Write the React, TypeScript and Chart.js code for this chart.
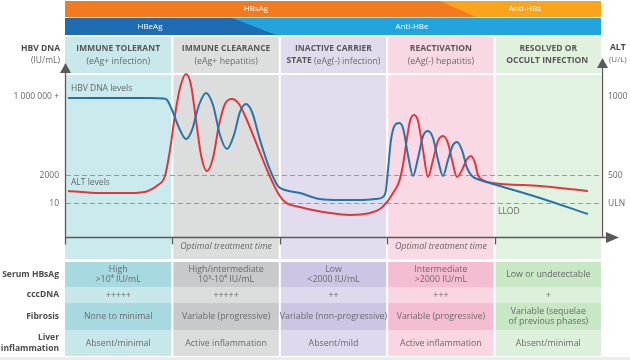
import React, { useEffect, useRef } from "react";
import { Chart, registerables } from "chart.js";

Chart.register(...registerables);

// ---------- data ----------
const phaseBounds = [0, 20, 40, 60, 80, 100];
const phaseTitles = ["IMMUNE TOLERANT", "IMMUNE CLEARANCE", "INACTIVE CARRIER", "REACTIVATION", "RESOLVED OR"];
const phaseSubtitles = ["(eAg+ infection)", "(eAg+ hepatitis)", "STATE|(eAg(-) infection)", "(eAg(-) hepatitis)", "OCCULT INFECTION|"];
const treatmentLabels = ["", "Optimal treatment time", "", "Optimal treatment time", ""];

const hbvX = [0.56, 15.83, 18.25, 19.0, 19.93, 21.42, 22.53, 23.65, 24.95, 26.26, 27.56, 28.86, 30.17, 31.47, 32.59, 33.71, 34.82, 36.31, 38.18, 39.66, 40.97, 43.76, 47.49, 51.21, 54.93, 57.73, 59.22, 59.78, 60.15, 60.71, 61.45, 62.2, 62.94, 63.87, 64.8, 65.74, 66.67, 67.6, 68.53, 69.46, 70.39, 71.32, 72.25, 73.0, 73.93, 74.86, 75.79, 77.28, 79.7, 88.45, 97.39];
const hbvY = [99.3, 99.3, 98.9, 97.9, 90.7, 76.4, 70.0, 76.4, 94.3, 102.9, 94.3, 72.9, 62.9, 72.9, 89.3, 95.0, 89.3, 69.3, 47.9, 36.4, 33.6, 31.4, 27.1, 26.4, 26.4, 27.1, 28.6, 33.6, 47.9, 69.3, 80.0, 81.4, 77.9, 58.6, 43.6, 56.4, 72.1, 75.7, 70.7, 55.0, 43.6, 55.0, 65.7, 67.9, 62.1, 49.3, 43.6, 40.7, 37.9, 27.9, 16.4];

const altX = [0.56, 6.52, 12.1, 15.46, 17.32, 18.62, 19.55, 20.48, 21.42, 22.53, 23.46, 24.39, 25.33, 26.44, 27.56, 28.68, 29.8, 31.1, 32.4, 33.71, 35.38, 36.87, 38.18, 39.66, 40.97, 43.76, 49.35, 53.07, 56.8, 58.66, 59.96, 61.08, 62.2, 62.94, 63.69, 64.25, 64.99, 65.74, 66.67, 67.6, 68.53, 69.46, 70.39, 71.32, 72.07, 73.0, 73.93, 74.86, 75.61, 76.35, 76.91, 78.21, 79.7, 88.45, 97.39];
const altY = [32.9, 31.4, 31.4, 32.9, 37.1, 43.6, 62.1, 87.1, 106.4, 116.4, 108.6, 83.6, 58.6, 47.1, 56.4, 80.0, 95.0, 98.6, 95.0, 85.0, 69.3, 55.0, 42.9, 31.4, 25.0, 21.4, 17.1, 15.7, 17.1, 20.0, 25.0, 31.4, 39.3, 51.4, 70.7, 82.9, 87.1, 82.9, 62.1, 42.9, 55.0, 68.6, 72.1, 67.1, 55.0, 42.9, 47.9, 55.7, 57.9, 52.9, 44.3, 40.0, 38.6, 36.4, 32.9];

const tickValues = [100, 44, 24];
const leftTickLabels = ["1 000 000 +", "2000", "10"];
const rightTickLabels = ["1000", "500", "ULN"];
const dashedValues = [44, 24];

const tableRowLabels = ["Serum HBsAg", "cccDNA", "Fibrosis", "Liver|inflammation"];
const rowHBsAg = ["High|>10⁴ IU/mL", "High/intermediate|10³-10⁴ IU/mL", "Low|<2000 IU/mL", "Intermediate|>2000 IU/mL", "Low or undetectable"];
const rowCccDNA = ["+++++", "+++++", "++", "+++", "+"];
const rowFibrosis = ["None to minimal", "Variable (progressive)", "Variable (non-progressive)", "Variable (progressive)", "Variable (sequelae|of previous phases)"];
const rowInflammation = ["Absent/minimal", "Active inflammation", "Absent/mild", "Active inflammation", "Absent/minimal"];

// ---------- styles ----------
const FONT = '"Open Sans", "Noto Sans", sans-serif';
const panelColors = ["#CBEAEE", "#DCDDDD", "#E1DCEE", "#F9D9E4", "#E2F2E0"];
const headerColors = ["#C9E8EC", "#DDDEDE", "#E0DBED", "#F8D8E3", "#E0F1DE"];
const rowDark = ["#A7DAE0", "#C7C9CA", "#CDC5E4", "#F5BDD1", "#C8E7C5"];
const rowLight = ["#C7E7EB", "#DBDCDC", "#DFD9EE", "#FAD5E2", "#DDF0DB"];
const rowBands = [
  [262, 287],
  [287, 303],
  [303, 330],
  [330, 356],
];
const BLUE = "#2574AA";
const RED = "#E2363F";
const AXIS = "#5a5a5a";
const TXT = "#666666";

function lines(ctx: CanvasRenderingContext2D, text: string, x: number, cy: number, lh: number) {
  const parts = text.split("|");
  const start = cy - ((parts.length - 1) * lh) / 2;
  parts.forEach((p, i) => ctx.fillText(p, x, start + i * lh));
}

const infographic = {
  id: "hbvInfographic",
  beforeDraw(chart: any) {
    const ctx: CanvasRenderingContext2D = chart.ctx;
    const xs = chart.scales.x;
    const W = chart.width;
    const H = chart.height;
    ctx.save();
    ctx.fillStyle = "#ffffff";
    ctx.fillRect(0, 0, W, H);
    ctx.fillStyle = "#ececec";
    ctx.fillRect(0, 357, W, 3);

    const L = xs.getPixelForValue(0);
    const R = xs.getPixelForValue(100);

    // top serology bars
    ctx.fillStyle = "#F47A20";
    ctx.fillRect(L, 1, R - 1 - L, 16);
    ctx.fillStyle = "#F9A41B";
    ctx.beginPath();
    ctx.moveTo(440, 1);
    ctx.lineTo(R - 1, 1);
    ctx.lineTo(R - 1, 17);
    ctx.lineTo(476, 17);
    ctx.closePath();
    ctx.fill();
    ctx.fillStyle = "#22A5DD";
    ctx.fillRect(L, 18, R - 1 - L, 17);
    ctx.fillStyle = "#1E6CB2";
    ctx.beginPath();
    ctx.moveTo(L, 18);
    ctx.lineTo(232, 18);
    ctx.lineTo(276, 35);
    ctx.lineTo(L, 35);
    ctx.closePath();
    ctx.fill();
    ctx.fillStyle = "#ffffff";
    ctx.font = `8px ${FONT}`;
    ctx.textAlign = "center";
    ctx.textBaseline = "middle";
    ctx.fillText("HBsAg", 256, 9);
    ctx.fillText("Anti-HBs", 525, 9);
    ctx.fillText("HBeAg", 150, 27);
    ctx.fillText("Anti-HBe", 412, 27);

    // phase columns
    for (let i = 0; i < 5; i++) {
      const x0 = i === 0 ? L : xs.getPixelForValue(phaseBounds[i]) + 1;
      const x1 = i === 4 ? R - 1 : xs.getPixelForValue(phaseBounds[i + 1]) - 1;
      const cx = (x0 + x1) / 2;
      ctx.fillStyle = headerColors[i];
      ctx.fillRect(x0, 37, x1 - x0, 36);
      ctx.fillStyle = panelColors[i];
      ctx.fillRect(x0, 75, x1 - x0, 184);
      rowBands.forEach((b, r) => {
        ctx.fillStyle = r % 2 === 0 ? rowDark[i] : rowLight[i];
        ctx.fillRect(x0, b[0], x1 - x0, b[1] - b[0]);
      });

      // header texts
      ctx.fillStyle = "#575757";
      ctx.textAlign = "center";
      ctx.font = `bold 8.5px ${FONT}`;
      ctx.fillText(phaseTitles[i], cx, 49);
      const sub = phaseSubtitles[i].split("|");
      const boldPart = sub.length > 1 ? sub[0] : "";
      const normPart = sub.length > 1 ? sub[1] : sub[0];
      ctx.font = `bold 8.5px ${FONT}`;
      const bw = boldPart ? ctx.measureText(boldPart + " ").width : 0;
      ctx.font = `8.8px ${FONT}`;
      const nw = normPart ? ctx.measureText(normPart).width : 0;
      let sx = cx - (bw + nw) / 2;
      ctx.textAlign = "left";
      if (boldPart) {
        ctx.font = `bold 8.5px ${FONT}`;
        ctx.fillText(boldPart + " ", sx, 61);
        sx += bw;
      }
      if (normPart) {
        ctx.font = `8.8px ${FONT}`;
        ctx.fillStyle = "#6a6a6a";
        ctx.fillText(normPart, sx, 61);
      }

      // treatment label
      if (treatmentLabels[i]) {
        ctx.textAlign = "center";
        ctx.font = `italic 8.8px ${FONT}`;
        ctx.fillStyle = "#666";
        ctx.fillText(treatmentLabels[i], cx, 246);
      }

      // table cells
      ctx.textAlign = "center";
      ctx.font = `8.8px ${FONT}`;
      ctx.fillStyle = "#6a6a6a";
      const cells = [rowHBsAg[i], rowCccDNA[i], rowFibrosis[i], rowInflammation[i]];
      cells.forEach((c, r) => {
        const b = rowBands[r];
        lines(ctx, c, cx, (b[0] + b[1]) / 2, 10);
      });
    }

    // row labels
    ctx.textAlign = "right";
    ctx.font = `bold 8.5px ${FONT}`;
    ctx.fillStyle = "#4a4a4a";
    tableRowLabels.forEach((t, r) => {
      const b = rowBands[r];
      lines(ctx, t, 59, (b[0] + b[1]) / 2, 11);
    });
    ctx.restore();
  },
  beforeDatasetsDraw(chart: any) {
    const ctx: CanvasRenderingContext2D = chart.ctx;
    const xs = chart.scales.x;
    const ys = chart.scales.y;
    ctx.save();
    ctx.strokeStyle = "#9a9a9a";
    ctx.lineWidth = 1;
    ctx.setLineDash([5, 3]);
    dashedValues.forEach((v) => {
      const y = Math.round(ys.getPixelForValue(v)) + 0.5;
      ctx.beginPath();
      ctx.moveTo(xs.getPixelForValue(0) + 1, y);
      ctx.lineTo(xs.getPixelForValue(100), y);
      ctx.stroke();
    });
    ctx.restore();
  },
  afterDraw(chart: any) {
    const ctx: CanvasRenderingContext2D = chart.ctx;
    const xs = chart.scales.x;
    const ys = chart.scales.y;
    const L = Math.round(xs.getPixelForValue(0)) + 0.5;
    const R = Math.round(xs.getPixelForValue(100)) + 0.5;
    const B = Math.round(ys.getPixelForValue(0)) + 0.5;
    ctx.save();
    ctx.strokeStyle = AXIS;
    ctx.fillStyle = AXIS;
    ctx.lineWidth = 1.3;
    ctx.beginPath();
    ctx.moveTo(L, 72);
    ctx.lineTo(L, B);
    ctx.lineTo(607, B);
    ctx.moveTo(R, 67);
    ctx.lineTo(R, B);
    ctx.stroke();
    // ticks
    phaseBounds.slice(0, 5).forEach((v) => {
      const x = Math.round(xs.getPixelForValue(v)) + 0.5;
      ctx.beginPath();
      ctx.moveTo(x, B);
      ctx.lineTo(x, B + 7);
      ctx.stroke();
    });
    // arrowheads
    const tri = (a: number[], b: number[], c: number[]) => {
      ctx.beginPath();
      ctx.moveTo(a[0], a[1]);
      ctx.lineTo(b[0], b[1]);
      ctx.lineTo(c[0], c[1]);
      ctx.closePath();
      ctx.fill();
    };
    tri([L, 63], [L - 5.5, 73], [L + 5.5, 73]);
    tri([R, 58], [R - 5.5, 68], [R + 5.5, 68]);
    tri([619, B], [606, B - 5.5], [606, B + 5.5]);

    // axis titles
    ctx.textBaseline = "middle";
    ctx.textAlign = "right";
    ctx.fillStyle = "#4a4a4a";
    ctx.font = `bold 8.5px ${FONT}`;
    ctx.fillText("HBV DNA", 60, 49);
    ctx.font = `8.5px ${FONT}`;
    ctx.fillStyle = TXT;
    ctx.fillText("(IU/mL)", 60, 61);
    ctx.textAlign = "left";
    ctx.fillStyle = "#4a4a4a";
    ctx.font = `bold 8.5px ${FONT}`;
    ctx.fillText("ALT", 610, 48);
    ctx.font = `8px ${FONT}`;
    ctx.fillStyle = TXT;
    ctx.fillText("(U/L)", 609, 60);

    // tick labels
    ctx.font = `8.5px ${FONT}`;
    ctx.fillStyle = TXT;
    tickValues.forEach((v, i) => {
      const y = ys.getPixelForValue(v);
      ctx.textAlign = "right";
      ctx.fillText(leftTickLabels[i], 59, y);
      ctx.textAlign = "left";
      ctx.fillText(rightTickLabels[i], 608, y);
    });

    // series labels
    ctx.textAlign = "left";
    ctx.font = `8.5px ${FONT}`;
    ctx.fillStyle = TXT;
    ctx.fillText("HBV DNA levels", 71, 89);
    ctx.fillText("ALT levels", 71, 183);
    ctx.fillText("LLOD", 498, 212);
    ctx.restore();
  },
};

export default function App() {
  const ref = useRef<HTMLCanvasElement | null>(null);
  useEffect(() => {
    document.body.style.margin = "0";
    if (!ref.current) return;
    const chart = new Chart(ref.current, {
      type: "line",
      data: {
        datasets: [
          {
            label: "HBV DNA levels",
            data: hbvX.map((x, i) => ({ x, y: hbvY[i] })),
            borderColor: BLUE,
            borderWidth: 2,
            pointRadius: 0,
            cubicInterpolationMode: "monotone",
            fill: false,
            clip: false as any,
          },
          {
            label: "ALT levels",
            data: altX.map((x, i) => ({ x, y: altY[i] })),
            borderColor: RED,
            borderWidth: 2,
            pointRadius: 0,
            cubicInterpolationMode: "monotone",
            fill: false,
            clip: false as any,
          },
        ],
      },
      options: {
        animation: false,
        responsive: true,
        maintainAspectRatio: false,
        layout: { padding: { left: 65, right: 28, top: 69, bottom: 123 } },
        scales: {
          x: { type: "linear", min: 0, max: 100, display: false },
          y: { type: "linear", min: 0, max: 120, display: false },
        },
        plugins: { legend: { display: false }, tooltip: { enabled: false } },
        events: [],
      },
      plugins: [infographic],
    });
    return () => chart.destroy();
  }, []);
  return (
    <div style={{ position: "absolute", left: 0, top: 0, width: 630, height: 360 }}>
      <canvas ref={ref} />
    </div>
  );
}
